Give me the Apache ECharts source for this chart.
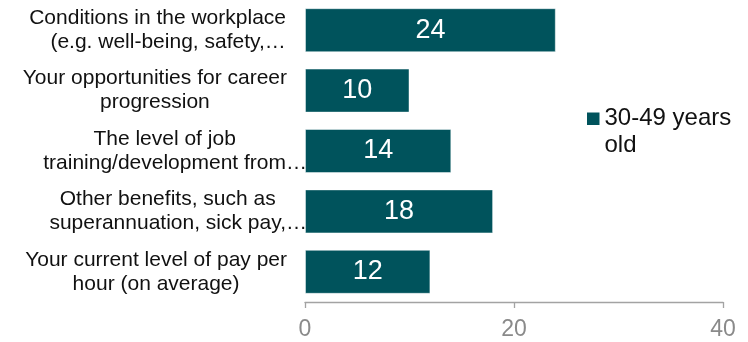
<!DOCTYPE html>
<html>
<head>
<meta charset="utf-8">
<script src="https://cdn.jsdelivr.net/npm/echarts@6/dist/echarts.min.js"></script>
<style>
  html, body { margin: 0; padding: 0; background: #ffffff; }
  #chart { width: 748px; height: 342px; }
</style>
</head>
<body>
<div id="chart"></div>
<script>
// Survey factors, listed top to bottom
const categories = [
  'Conditions in the workplace\n(e.g. well-being, safety,…',
  'Your opportunities for career\nprogression',
  'The level of job\ntraining/development from…',
  'Other benefits, such as\nsuperannuation, sick pay,…',
  'Your current level of pay per\nhour (on average)'
];
const seriesName = '30-49 years old';
const values = [24, 10, 14, 18, 12];
const xTicks = [0, 20, 40];

const FONT = "'Liberation Sans', Arial, sans-serif";
const TEAL = '#00535c';
const LABEL_SIZE = 21;
const LINE_H = 24;

// Each line is centred inside its block; a trailing ellipsis hangs past the
// centred text, and other lines carry an equal blank so their centres align.
function categoryLabel(text) {
  const lines = text.split('\n');
  const truncated = text.indexOf('…') >= 0;
  return lines.map(line => {
    if (truncated) {
      if (line.endsWith('…')) return '{c|' + line.slice(0, -1) + '}{e|…}';
      return '{c|' + line + '}{h| }';
    }
    return '{c|' + line + '}{p| }';
  }).join('\n');
}

const tokenBase = {
  fontFamily: FONT, fontSize: LABEL_SIZE, lineHeight: LINE_H,
  color: '#111111', align: 'center'
};

const chart = echarts.init(document.getElementById('chart'), null, { renderer: 'canvas' });
chart.setOption({
  animation: false,
  backgroundColor: '#ffffff',
  grid: {
    left: 305, width: 418, top: 0, bottom: 40,
    containLabel: false, outerBoundsMode: 'none'
  },
  legend: {
    data: [seriesName],
    left: 582,
    top: 74,
    icon: 'rect',
    itemWidth: 12.5,
    itemHeight: 12.5,
    itemStyle: { borderWidth: 0 },
    // leading blank line keeps the first text line level with the swatch
    formatter: name => '\n' + name.replace(' old', '\nold'),
    textStyle: {
      fontFamily: FONT, fontSize: 24, lineHeight: 26.5, color: '#111111'
    }
  },
  xAxis: {
    type: 'value',
    min: xTicks[0],
    max: xTicks[xTicks.length - 1],
    interval: xTicks[1] - xTicks[0],
    splitLine: { show: false },
    axisLine: { show: true, lineStyle: { color: '#a3a3a3', width: 1.3 } },
    axisTick: { show: true, length: 6, lineStyle: { color: '#a3a3a3', width: 1.3 } },
    axisLabel: {
      margin: 16, fontFamily: FONT, fontSize: 23, color: '#8a8a8a'
    }
  },
  yAxis: {
    type: 'category',
    data: categories,
    inverse: true,
    axisLine: { show: false },
    axisTick: { show: false },
    axisLabel: {
      margin: -2,
      fontFamily: FONT, fontSize: LABEL_SIZE, lineHeight: LINE_H, color: '#111111',
      formatter: categoryLabel,
      rich: {
        c: Object.assign({}, tokenBase),
        e: Object.assign({}, tokenBase),
        h: Object.assign({}, tokenBase, { width: LABEL_SIZE }),
        p: Object.assign({}, tokenBase, { width: 20 })
      }
    }
  },
  series: [{
    name: seriesName,
    type: 'bar',
    data: values,
    barWidth: 44,
    itemStyle: {
      color: TEAL,
      borderColor: 'rgba(255,255,255,0.45)',
      borderWidth: 1
    },
    label: {
      show: true,
      position: 'inside',
      color: '#ffffff',
      fontFamily: FONT,
      fontSize: 27
    }
  }]
});
</script>
</body>
</html>
